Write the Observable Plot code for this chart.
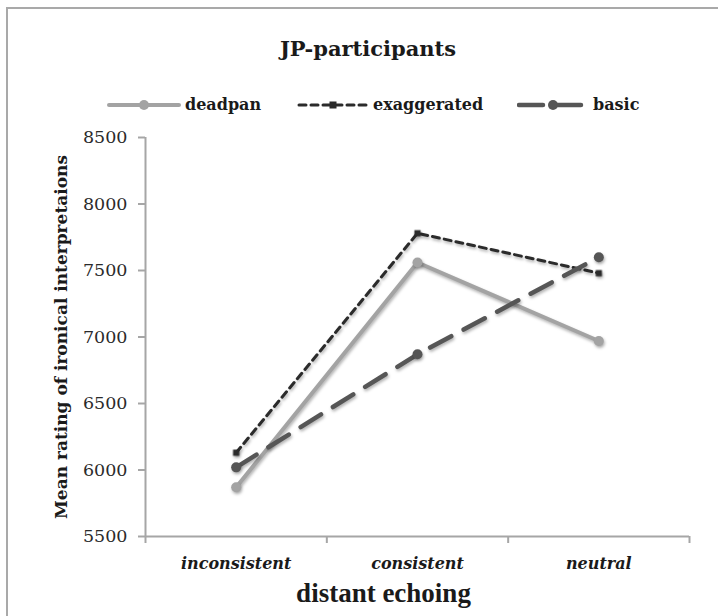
<!DOCTYPE html>
<html><head><meta charset="utf-8">
<script src="https://cdn.jsdelivr.net/npm/d3@7"></script>
<script src="https://cdn.jsdelivr.net/npm/@observablehq/plot@0.6"></script>
<style>
html,body{margin:0;padding:0;background:#fff;}
body{width:718px;height:616px;overflow:hidden;position:relative;font-family:"DejaVu Serif",serif;color:#1a1a1a;}
#frame{position:absolute;left:6px;top:7px;width:800px;height:700px;border-left:2px solid #a9a9a9;border-top:2px solid #a9a9a9;}
#title{position:absolute;top:36px;left:268px;width:200px;text-align:center;font-weight:bold;font-size:21px;white-space:nowrap;}
.leg{position:absolute;top:95px;display:flex;align-items:center;font-weight:bold;font-size:16px;white-space:nowrap;}
.leg svg{display:block;margin-right:4px;}
#chart{position:absolute;left:0;top:120px;}
#chart g[aria-label="line"]{filter:drop-shadow(1px 2px 1.5px rgba(0,0,0,0.3));}
#chart g[aria-label="dot"]{filter:drop-shadow(1px 2px 1.5px rgba(0,0,0,0.3));}
</style>
</head><body>
<div id="frame"></div>
<div id="title">JP-participants</div>
<div id="legend"></div>
<div id="chart"></div>
<script>
const categories = ["inconsistent", "consistent", "neutral"];
const seriesNames = ["deadpan", "exaggerated", "basic"];
const deadpan = [5870, 7560, 6970];
const exaggerated = [6130, 7780, 7480];
const basic = [6020, 6870, 7600];
const yTicks = [5500, 6000, 6500, 7000, 7500, 8000, 8500];
const yLabel = "Mean rating of ironical interpretaions";
const xLabel = "distant echoing";

const seriesValues = [deadpan, exaggerated, basic];
const styles = {
  deadpan: {stroke: "#a3a3a3", width: 4, dash: null, symbol: "circle", r: 5},
  exaggerated: {stroke: "#2b2b2b", width: 3, dash: "7,5", symbol: "square", r: 3.5},
  basic: {stroke: "#565656", width: 4.5, dash: "24,14", symbol: "circle", r: 5}
};

const data = seriesNames.flatMap((s, si) =>
  seriesValues[si].map((v, i) => ({series: s, idx: i, cat: categories[i], value: v})));

const boundaries = d3.range(categories.length + 1).map(i => i - 0.5);
const centers = d3.range(categories.length);
const axisColor = "#a6a6a6";

const marks = [
  Plot.ruleY([yTicks[0]], {stroke: axisColor, strokeWidth: 2}),
  Plot.ruleX([boundaries[0]], {stroke: axisColor, strokeWidth: 2}),
  Plot.axisY({ticks: yTicks, tickSize: 7, tickPadding: 11, stroke: axisColor, strokeWidth: 2,
    fontSize: 17.5, fill: "#2a2a2a", label: null, tickFormat: d => String(d)}),
  Plot.axisX({ticks: boundaries, tickSize: 7, stroke: axisColor, strokeWidth: 2, tickFormat: () => "", label: null}),
  Plot.axisX({ticks: centers, tickSize: 0, tickPadding: 21, tickFormat: i => categories[i],
    fontSize: 16, fontWeight: "bold", fontStyle: "italic", fill: "#1a1a1a", label: null}),
  Plot.text([yLabel], {frameAnchor: "left", textAnchor: "middle", rotate: -90, dx: -84, text: d => d,
    fontSize: 17, fontWeight: "bold", fill: "#1a1a1a"}),
  Plot.text([xLabel], {frameAnchor: "bottom", textAnchor: "middle", dx: -34, dy: 65, text: d => d,
    fontSize: 27, fontWeight: "bold", fill: "#1a1a1a", fontFamily: "Liberation Serif"})
];

for (const s of seriesNames) {
  const st = styles[s];
  const sd = data.filter(d => d.series === s);
  marks.push(Plot.line(sd, {x: "idx", y: "value", stroke: st.stroke, strokeWidth: st.width,
    strokeDasharray: st.dash, strokeLinecap: "round"}));
}
for (const s of seriesNames) {
  const st = styles[s];
  const sd = data.filter(d => d.series === s);
  marks.push(Plot.dot(sd, {x: "idx", y: "value", fill: st.stroke, r: st.r, symbol: st.symbol}));
}

const chart = Plot.plot({
  width: 718,
  height: 496,
  marginTop: 17,
  marginBottom: 80,
  marginLeft: 145,
  marginRight: 29,
  style: {fontFamily: "'DejaVu Serif', serif", background: "transparent", overflow: "visible"},
  x: {type: "linear", domain: [boundaries[0], boundaries[boundaries.length - 1]], axis: null},
  y: {domain: [yTicks[0], yTicks[yTicks.length - 1]], axis: null},
  marks
});
document.getElementById("chart").appendChild(chart);

// legend
const legendPos = {deadpan: 107, exaggerated: 297, basic: 517};
const legendLen = {deadpan: 70, exaggerated: 68, basic: 68};
const legend = document.getElementById("legend");
for (const s of seriesNames) {
  const st = styles[s];
  const w = legendLen[s];
  const item = document.createElement("div");
  item.className = "leg";
  item.style.left = legendPos[s] + "px";
  const ns = "http://www.w3.org/2000/svg";
  const svg = document.createElementNS(ns, "svg");
  svg.setAttribute("width", w + 4);
  svg.setAttribute("height", 16);
  const line = document.createElementNS(ns, "line");
  line.setAttribute("x1", 2); line.setAttribute("x2", w + 2);
  line.setAttribute("y1", 8); line.setAttribute("y2", 8);
  line.setAttribute("stroke", st.stroke);
  line.setAttribute("stroke-width", st.width);
  line.setAttribute("stroke-linecap", "round");
  if (st.dash) line.setAttribute("stroke-dasharray", st.dash);
  svg.appendChild(line);
  if (st.symbol === "circle") {
    const c = document.createElementNS(ns, "circle");
    c.setAttribute("cx", 2 + w / 2); c.setAttribute("cy", 8); c.setAttribute("r", st.r);
    c.setAttribute("fill", st.stroke);
    svg.appendChild(c);
  } else {
    const r = document.createElementNS(ns, "rect");
    r.setAttribute("x", 2 + w / 2 - st.r); r.setAttribute("y", 8 - st.r);
    r.setAttribute("width", 2 * st.r); r.setAttribute("height", 2 * st.r);
    r.setAttribute("fill", st.stroke);
    svg.appendChild(r);
  }
  item.appendChild(svg);
  const t = document.createElement("span");
  t.textContent = s;
  item.appendChild(t);
  legend.appendChild(item);
}
</script>
</body></html>
